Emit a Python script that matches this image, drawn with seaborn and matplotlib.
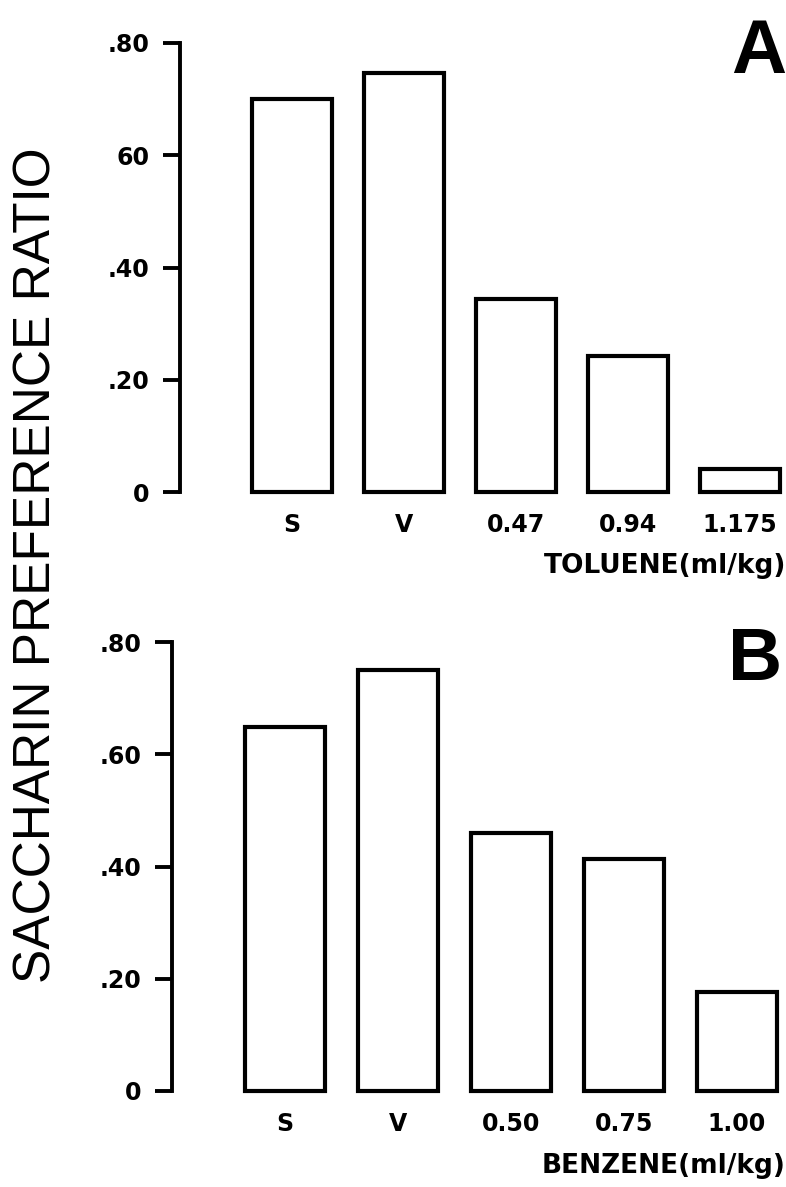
import matplotlib
matplotlib.use("Agg")
import matplotlib.pyplot as plt
import seaborn as sns
import pandas as pd

# Data
toluene_labels = ["S", "V", "0.47", "0.94", "1.175"]
toluene_values = [0.70, 0.747, 0.343, 0.243, 0.041]
benzene_labels = ["S", "V", "0.50", "0.75", "1.00"]
benzene_values = [0.648, 0.750, 0.459, 0.414, 0.176]
ytick_vals = [0, 0.20, 0.40, 0.60, 0.80]
ytick_labels_a = ["0", ".20", ".40", "60", ".80"]
ytick_labels_b = ["0", ".20", ".40", ".60", ".80"]

sns.set_theme(style="white")
plt.rcParams["font.family"] = ["DejaVu Sans"]

W, H = 786, 1187
fig = plt.figure(figsize=(W / 100, H / 100), dpi=100)

def px_axes(left, right, top, bottom):
    return fig.add_axes([left / W, 1 - bottom / H, (right - left) / W, (bottom - top) / H])

def draw_panel(ax, labels, values, yticklabels, xlabel, unit_px, label_y):
    df = pd.DataFrame({"dose": labels, "ratio": values})
    sns.barplot(data=df, x="dose", y="ratio", order=labels, color="white",
                edgecolor="black", linewidth=3.0, width=0.71, ax=ax,
                errorbar=None, saturation=1)
    for p in ax.patches:
        p.set_clip_on(False)
        p.set_facecolor("white")
    width_px = ax.get_position().width * W
    ax.set_xlim(-1, -1 + width_px / unit_px)
    ax.set_ylim(0, 0.8)
    for s in ["top", "right", "bottom"]:
        ax.spines[s].set_visible(False)
    ax.spines["left"].set_linewidth(2.8)
    ax.spines["left"].set_color("black")
    ax.spines["left"].set_bounds(0, 0.8)
    ax.set_yticks(ytick_vals)
    ax.set_yticklabels(yticklabels, fontsize=17, fontweight="bold")
    ax.tick_params(axis="y", direction="out", length=12, width=2.8, color="black",
                   pad=10, left=True, labelcolor="black")
    ax.tick_params(axis="x", length=0, pad=15, labelsize=17, labelcolor="black")
    for t in ax.get_xticklabels():
        t.set_fontweight("bold")
    ax.set_ylabel("")
    ax.set_xlabel(xlabel, fontsize=19, fontweight="bold", color="black")
    ax.xaxis.set_label_coords(1.0, label_y)
    ax.xaxis.label.set_horizontalalignment("right")
    ax.set_facecolor("white")

ax_a = px_axes(180, 786, 43, 492)
draw_panel(ax_a, toluene_labels, toluene_values, ytick_labels_a,
           "TOLUENE(ml/kg)", 112, -0.135)
ax_b = px_axes(172, 786, 642, 1091)
draw_panel(ax_b, benzene_labels, benzene_values, ytick_labels_b,
           "BENZENE(ml/kg)", 113, -0.138)

fig.text(786 / W, 1 - 73 / H, "A", ha="right", va="baseline", fontsize=55,
         fontweight="bold", family="Liberation Sans", color="black")
fig.text(782 / W, 1 - 680 / H, "B", ha="right", va="baseline", fontsize=54,
         fontweight="bold", family="Liberation Sans", color="black")

fig.text(37 / W, 1 - 565 / H, "SACCHARIN PREFERENCE RATIO", rotation=90,
         ha="center", va="center", fontsize=37, family="Liberation Sans", color="black")

fig.savefig("out.png", dpi=100, facecolor="white")
